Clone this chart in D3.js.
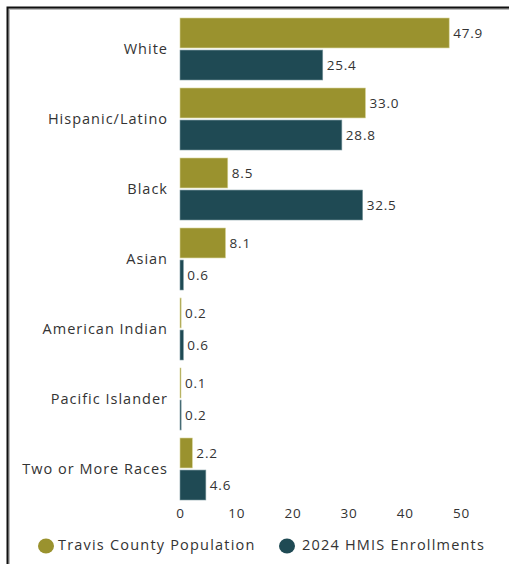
<!DOCTYPE html>
<html><head><meta charset="utf-8">
<script src="https://cdn.jsdelivr.net/npm/d3@7"></script>
<style>
html,body{margin:0;padding:0;background:#fff;}
svg{display:block;}
text{font-family:"Open Sans",sans-serif;fill:#333;}
</style></head>
<body>
<script>
const categories = ["White","Hispanic/Latino","Black","Asian","American Indian","Pacific Islander","Two or More Races"];
const seriesNames = ["Travis County Population","2024 HMIS Enrollments"];
const travisCounty = [47.9,33.0,8.5,8.1,0.2,0.1,2.2];
const hmis2024 = [25.4,28.8,32.5,0.6,0.6,0.2,4.6];
const xTicks = [0,10,20,30,40,50];
const colors = ["#9a922e","#1f4a54"];

const W=509,H=564;
const svg=d3.select("body").append("svg").attr("width",W).attr("height",H);

svg.append("path").attr("d","M9,564 V9 H509").attr("fill","none").attr("stroke","#bbb").attr("stroke-width",2);
svg.append("path").attr("d","M7.5,564 V7.5 H509").attr("fill","none").attr("stroke","#111").attr("stroke-width",2);

const x=d3.scaleLinear().domain([0,50]).range([180,461]);
const y=d3.scaleBand().domain(categories).range([14,504]).paddingInner(0.0).paddingOuter(0);
const inner=d3.scaleBand().domain([0,1]).range([4,66]).paddingInner(0.065);

const data=categories.map((c,i)=>({c,vals:[travisCounty[i],hmis2024[i]]}));
const g=svg.selectAll("g.cat").data(data).join("g").attr("transform",d=>`translate(0,${y(d.c)})`);

g.selectAll("rect").data(d=>d.vals.map((v,k)=>({v,k}))).join("rect")
 .attr("x",x(0)).attr("y",d=>inner(d.k)).attr("height",inner.bandwidth())
 .attr("width",d=>Math.max(1,x(d.v)-x(0))).attr("fill",d=>colors[d.k])
 .attr("stroke",d=>d.k===0?"#d8d49a":"#7f9aa0").attr("stroke-width",0.6);

g.selectAll("text.val").data(d=>d.vals.map((v,k)=>({v,k}))).join("text").attr("class","val")
 .attr("x",d=>Math.max(x(d.v),x(0)+1)+4).attr("y",d=>inner(d.k)+inner.bandwidth()/2).attr("dy","0.35em")
 .attr("font-size",13.5).attr("letter-spacing",0.8).text(d=>d.v.toFixed(1));

g.append("text").attr("x",168).attr("y",y.bandwidth()/2).attr("dy","0.35em").attr("text-anchor","end")
 .attr("font-size",14.5).attr("letter-spacing",1).text(d=>d.c);

const ax=svg.append("g").attr("transform","translate(0,504)").call(d3.axisBottom(x).tickValues(xTicks).tickSize(0).tickPadding(4));
ax.select(".domain").remove();
ax.selectAll("text").attr("font-size",13.5).attr("letter-spacing",0.8).style("font-family","'Open Sans',sans-serif").attr("fill","#333");

const leg=svg.append("g");
const legX=[46,287];
const legGap=[12,15];
seriesNames.forEach((n,i)=>{
  leg.append("ellipse").attr("cx",legX[i]).attr("cy",546).attr("rx",8).attr("ry",7.5).attr("fill",colors[i]);
  leg.append("text").attr("x",legX[i]+legGap[i]).attr("y",545).attr("dy","0.35em").attr("font-size",14.5).attr("letter-spacing",1.2).text(n);
});
</script>
</body></html>
